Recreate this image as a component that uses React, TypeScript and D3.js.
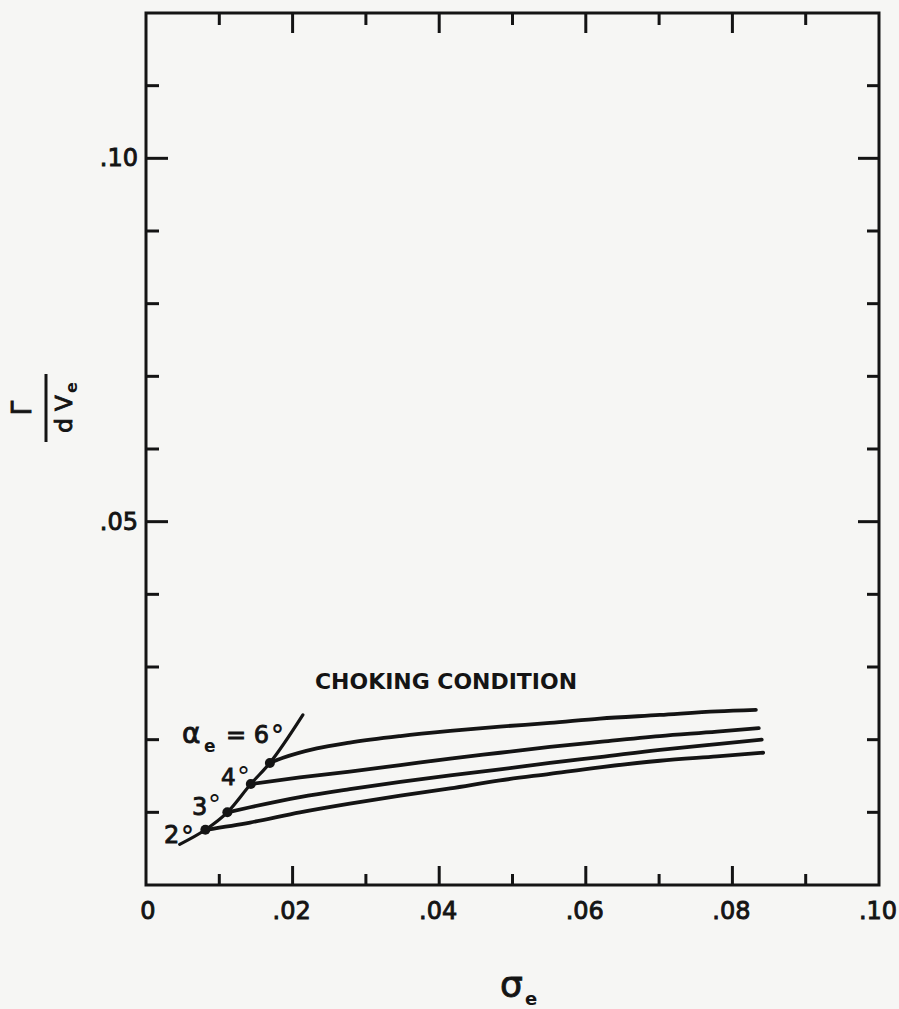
import React from "react";
import * as d3 from "d3";

// ---- Data ----
const xDomain = [0, 0.1];
const yDomain = [0, 0.12];

const xLabelValues = [0, 0.02, 0.04, 0.06, 0.08, 0.1];
const xLabelTexts = ["0", ".02", ".04", ".06", ".08", ".10"];
const yLabelValues = [0.05, 0.1];
const yLabelTexts = [".05", ".10"];

// Curves for alpha_e = 6°, 4°, 3°, 2°
const sigma6 = [0.0169, 0.0187, 0.0233, 0.0278, 0.0347, 0.0415, 0.0483, 0.0551, 0.0619, 0.0701, 0.0779, 0.0832];
const gamma6 = [0.0168, 0.0175, 0.0188, 0.0196, 0.0205, 0.0212, 0.0218, 0.0223, 0.0229, 0.0234, 0.0239, 0.0241];

const sigma4 = [0.0143, 0.021, 0.0278, 0.0347, 0.0415, 0.0483, 0.0551, 0.0619, 0.0701, 0.0779, 0.0836];
const gamma4 = [0.0139, 0.0148, 0.0156, 0.0165, 0.0174, 0.0182, 0.019, 0.0197, 0.0205, 0.0211, 0.0216];

const sigma3 = [0.0111, 0.0142, 0.021, 0.0278, 0.0347, 0.0415, 0.0483, 0.0551, 0.0619, 0.0701, 0.0779, 0.084];
const gamma3 = [0.01, 0.0107, 0.0121, 0.0132, 0.0142, 0.0151, 0.0159, 0.0168, 0.0176, 0.0186, 0.0194, 0.02];

const sigma2 = [0.0081, 0.0142, 0.021, 0.0278, 0.0347, 0.0415, 0.0483, 0.0551, 0.0619, 0.0701, 0.0779, 0.0842];
const gamma2 = [0.0076, 0.0086, 0.01, 0.0112, 0.0123, 0.0133, 0.0144, 0.0153, 0.0162, 0.0171, 0.0177, 0.0182];

// Choking-condition line
const chokeSigma = [0.0046, 0.0081, 0.0111, 0.0143, 0.0169, 0.0214];
const chokeGamma = [0.0056, 0.0076, 0.01, 0.0139, 0.0168, 0.0234];

// Choking points (start of each curve)
const dotSigma = [0.0169, 0.0143, 0.0111, 0.0081];
const dotGamma = [0.0168, 0.0139, 0.01, 0.0076];

const W = 899;
const H = 1009;
const M = { left: 146, right: 879, top: 13, bottom: 885 };
const INK = "#141414";

export default function App() {
  const x = d3.scaleLinear().domain(xDomain).range([M.left, M.right]);
  const y = d3.scaleLinear().domain(yDomain).range([M.bottom, M.top]);

  const xTicks = x.ticks(10);
  const yTicks = y.ticks(12);

  const line = d3
    .line<[number, number]>()
    .x((d) => x(d[0]))
    .y((d) => y(d[1]))
    .curve(d3.curveMonotoneX);

  const zip = (a: number[], b: number[]) => a.map((v, i) => [v, b[i]] as [number, number]);
  const curves = [zip(sigma6, gamma6), zip(sigma4, gamma4), zip(sigma3, gamma3), zip(sigma2, gamma2)];
  const choke = zip(chokeSigma, chokeGamma);

  const isMajorX = (t: number) => xLabelValues.some((v) => Math.abs(v - t) < 1e-9);
  const isMajorY = (t: number) => yLabelValues.some((v) => Math.abs(v - t) < 1e-9);

  const font = "'DejaVu Sans', 'Liberation Sans', sans-serif";
  const heavy = { stroke: INK, strokeWidth: 0.9, paintOrder: "stroke" as const };

  return (
    <svg
      width={W}
      height={H}
      style={{ position: "absolute", left: 0, top: 0, background: "#f6f6f4" }}
      fontFamily={font}
    >
      <rect x={0} y={0} width={W} height={H} fill="#f6f6f4" />
      {/* frame */}
      <rect
        x={M.left}
        y={M.top}
        width={M.right - M.left}
        height={M.bottom - M.top}
        fill="none"
        stroke={INK}
        strokeWidth={3}
      />
      {/* x ticks bottom & top */}
      {xTicks.map((t, i) => {
        if (t <= 1e-9 || t >= 0.1 - 1e-9) return null;
        const len = isMajorX(t) ? 19 : 11;
        const lenTop = isMajorX(t) ? 20 : 12;
        return (
          <g key={"xt" + i} stroke={INK} strokeWidth={3}>
            <line x1={x(t)} x2={x(t)} y1={M.bottom} y2={M.bottom - len} />
            <line x1={x(t)} x2={x(t)} y1={M.top} y2={M.top + lenTop} />
          </g>
        );
      })}
      {/* y ticks left & right */}
      {yTicks.map((t, i) => {
        if (t <= 1e-9 || t >= 0.12 - 1e-9) return null;
        const lenL = isMajorY(t) ? 22 : 13;
        const lenR = isMajorY(t) ? 21 : 12;
        return (
          <g key={"yt" + i} stroke={INK} strokeWidth={3}>
            <line x1={M.left} x2={M.left + lenL} y1={y(t)} y2={y(t)} />
            <line x1={M.right} x2={M.right - lenR} y1={y(t)} y2={y(t)} />
          </g>
        );
      })}
      {/* x tick labels */}
      {xLabelValues.map((v, i) => (
        <text
          key={"xl" + i}
          x={x(v) + (i === 0 ? 2 : -1)}
          y={919}
          textAnchor="middle"
          fontSize={24}
          fill={INK}
          {...heavy}
        >
          {xLabelTexts[i]}
        </text>
      ))}
      {/* y tick labels */}
      {yLabelValues.map((v, i) => (
        <text
          key={"yl" + i}
          x={138}
          y={y(v) + 8}
          textAnchor="end"
          fontSize={24}
          fill={INK}
          {...heavy}
        >
          {yLabelTexts[i]}
        </text>
      ))}

      {/* curves */}
      {curves.map((c, i) => (
        <path
          key={"c" + i}
          d={line(c) || ""}
          fill="none"
          stroke={INK}
          strokeWidth={3.8}
          strokeLinecap="round"
          strokeLinejoin="round"
        />
      ))}
      <path
        d={line(choke) || ""}
        fill="none"
        stroke={INK}
        strokeWidth={3.2}
        strokeLinecap="round"
        strokeLinejoin="round"
      />
      {dotSigma.map((s, i) => (
        <circle key={"d" + i} cx={x(s)} cy={y(dotGamma[i])} r={5} fill={INK} />
      ))}

      {/* annotations */}
      <text
        x={315}
        y={689}
        fontSize={22}
        fontWeight="bold"
        fill={INK}
        textLength={262}
        lengthAdjust="spacingAndGlyphs"
      >
        CHOKING CONDITION
      </text>
      <text x={182} y={743} fontSize={28} fill={INK} {...heavy}>
        α
      </text>
      <text x={204} y={752} fontSize={17} fill={INK} fontWeight="bold">
        e
      </text>
      <text x={226} y={743} fontSize={24} fill={INK} {...heavy}>
        = 6
      </text>
      <text x={271} y={744} fontSize={26} fill={INK} fontWeight="bold">
        °
      </text>
      <text x={221} y={785} fontSize={23} fill={INK} {...heavy}>
        4
      </text>
      <text x={237} y={786} fontSize={26} fill={INK}>
        °
      </text>
      <text x={192} y={815} fontSize={24} fill={INK} {...heavy}>
        3
      </text>
      <text x={208} y={814} fontSize={26} fill={INK}>
        °
      </text>
      <text x={164} y={843} fontSize={24} fill={INK} {...heavy}>
        2
      </text>
      <text x={181} y={845} fontSize={26} fill={INK} fontWeight="bold">
        °
      </text>

      {/* y-axis label: Γ / dV_e rotated */}
      <g transform="translate(46,408) rotate(-90)">
        <line x1={-34} x2={34} y1={0} y2={0} stroke={INK} strokeWidth={3} />
        <text x={0} y={-15} textAnchor="middle" fontSize={26} fill={INK} {...heavy}>
          Γ
        </text>
        <text x={-6} y={26} textAnchor="middle" fontSize={23} fill={INK} {...heavy}>
          d V
        </text>
        <text x={15} y={31} fontSize={16} fill={INK} fontWeight="bold">
          e
        </text>
      </g>

      {/* x-axis label σ_e */}
      <text x={500} y={997} fontSize={36} fill={INK} {...heavy}>
        σ
      </text>
      <text x={525} y={1005} fontSize={18} fill={INK} fontWeight="bold">
        e
      </text>
    </svg>
  );
}
